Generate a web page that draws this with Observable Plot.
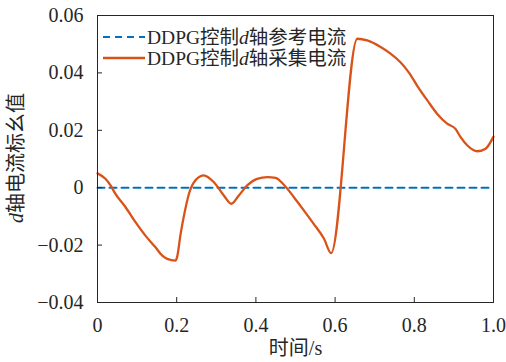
<!DOCTYPE html>
<html>
<head>
<meta charset="utf-8">
<script src="https://cdn.jsdelivr.net/npm/d3@7"></script>
<script src="https://cdn.jsdelivr.net/npm/@observablehq/plot@0.6"></script>
<style>
  body { margin: 0; background: #fff; }
  #chart svg { display: block; }
</style>
</head>
<body>
<div id="chart"></div>
<script>
// Measured d-axis current under DDPG control (per-unit) vs time (s)
const time = [
  0.000, 0.020, 0.033, 0.045, 0.071, 0.096, 0.121, 0.146, 0.163, 0.176, 0.197,
  0.201, 0.210, 0.218, 0.231, 0.243, 0.268, 0.294, 0.319, 0.338, 0.357, 0.378,
  0.403, 0.429, 0.450, 0.470, 0.496, 0.521, 0.546, 0.572, 0.590, 0.656, 0.681,
  0.715, 0.740, 0.765, 0.786, 0.807, 0.833, 0.858, 0.883, 0.904, 0.917, 0.934,
  0.959, 0.980, 1.000
];
const idMeasured = [
  0.0050, 0.0031, 0.0008, -0.0021, -0.0068, -0.0120, -0.0167, -0.0207, -0.0236, -0.0248, -0.0254,
  -0.0242, -0.0160, -0.0100, -0.0021, 0.0018, 0.0043, 0.0019, -0.0027, -0.0056, -0.0027, 0.0008,
  0.0031, 0.0037, 0.0034, 0.0011, -0.0033, -0.0079, -0.0126, -0.0178, -0.0228, 0.0519, 0.0513,
  0.0490, 0.0467, 0.0437, 0.0402, 0.0356, 0.0304, 0.0257, 0.0223, 0.0205, 0.0176, 0.0147,
  0.0127, 0.0136, 0.0178
];

// Reference d-axis current
const refTime = [0, 1];
const idRef = [0, 0];

const seriesNames = ["DDPG控制d轴参考电流", "DDPG控制d轴采集电流"];
const seriesColors = ["#0072bd", "#d95319"];

const xTicks = [0, 0.2, 0.4, 0.6, 0.8, 1.0];
const xTickLabels = ["0", "0.2", "0.4", "0.6", "0.8", "1.0"];
const yTicks = [-0.04, -0.02, 0, 0.02, 0.04, 0.06];
const yTickLabels = ["\u22120.04", "\u22120.02", "0", "0.02", "0.04", "0.06"];

const xTitle = "时间/s";
const yTitle = ["d", "轴电流标幺值"];

const measured = time.map((t, i) => ({t, v: idMeasured[i]}));
const reference = refTime.map((t, i) => ({t, v: idRef[i]}));

const serif = "'Liberation Serif', 'Times New Roman', 'Noto Sans CJK SC', serif";
const ink = "#262626";

const plot = Plot.plot({
  width: 506,
  height: 362,
  marginLeft: 97,
  marginRight: 13,
  marginTop: 15,
  marginBottom: 60,
  style: {fontFamily: serif, fontSize: "20px", color: ink, background: "#fff"},
  x: {domain: [0, 1]},
  y: {domain: [-0.04, 0.06]},
  marks: [
    Plot.line(reference, {x: "t", y: "v", stroke: seriesColors[0], strokeWidth: 2, strokeDasharray: "7,5"}),
    Plot.line(measured, {x: "t", y: "v", stroke: seriesColors[1], strokeWidth: 2.3, curve: "monotone-x"}),
    Plot.axisX({ticks: xTicks, tickFormat: (d, i) => xTickLabels[i], tickSize: -5, tickPadding: 20, label: null, stroke: ink}),
    Plot.axisY({ticks: yTicks, tickFormat: (d, i) => yTickLabels[i], tickSize: -5, tickPadding: 19, label: null, stroke: ink}),
    Plot.frame({stroke: ink, strokeWidth: 1}),
    Plot.text([xTitle], {frameAnchor: "bottom", dy: 52, text: d => d, fontSize: 20, fill: ink})
  ]
});

document.getElementById("chart").appendChild(plot);

const svg = d3.select(plot);

// Rotated y-axis title with italic variable name
const yt = svg.append("text")
  .attr("transform", "translate(16,158) rotate(-90)")
  .attr("text-anchor", "middle")
  .attr("dominant-baseline", "central")
  .attr("font-family", serif)
  .attr("font-size", 20)
  .attr("fill", ink);
yt.append("tspan").attr("font-style", "italic").text(yTitle[0]);
yt.append("tspan").text(yTitle[1]);

// Legend in the upper-left of the plot area
const legend = svg.append("g")
  .attr("font-family", serif)
  .attr("font-size", 19.5)
  .attr("fill", ink)
  .attr("text-anchor", "start");
seriesNames.forEach((name, i) => {
  const y = 37 + i * 21;
  legend.append("path")
    .attr("d", `M103,${y}H145`)
    .attr("fill", "none")
    .attr("stroke", seriesColors[i])
    .attr("stroke-width", i === 0 ? 2 : 2.3)
    .attr("stroke-dasharray", i === 0 ? "7,5" : "none");
  const [pre, post] = name.split("d");
  const t = legend.append("text")
    .attr("x", 147)
    .attr("y", y)
    .attr("text-anchor", "start")
    .attr("dominant-baseline", "central");
  t.append("tspan").text(pre);
  t.append("tspan").attr("font-style", "italic").text("d");
  t.append("tspan").text(post);
});
</script>
</body>
</html>
